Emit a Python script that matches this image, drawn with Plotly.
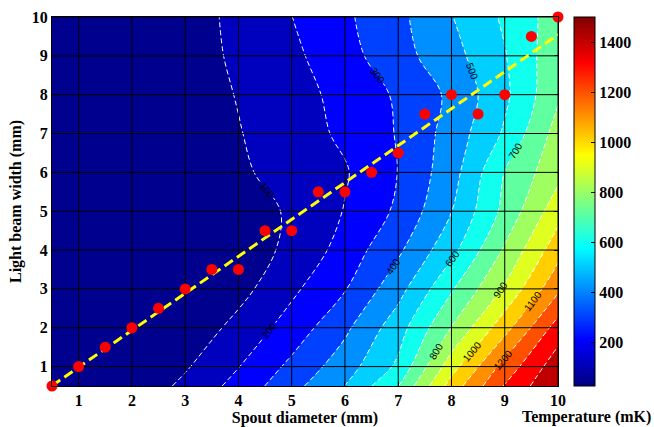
import numpy as np
import plotly.graph_objects as go

# ---------------- data ----------------
x_grid = [0.5, 1, 2, 3, 4, 5, 6, 7, 8, 9, 10]          # spout diameter (mm)
y_grid = [0.5, 1, 2, 3, 4, 5, 6, 7, 8, 9, 10]          # light beam width (mm)
temperature = [                                          # mK, rows follow y_grid
    [25, 26, 28, 123, 234, 368, 502, 698, 1043, 1308, 1500],
    [26, 28, 40, 89, 197, 324, 454, 620, 957, 1238, 1460],
    [25, 26, 28, 30, 131, 242, 379, 556, 803, 1063, 1345],
    [26, 27, 29, 32, 66, 180, 294, 464, 688, 914, 1180],
    [26, 28, 30, 34, 60, 117, 241, 382, 570, 814, 1060],
    [27, 28, 30, 35, 70, 108, 205, 318, 498, 729, 960],
    [27, 28, 31, 40, 85, 136, 191, 302, 459, 703, 870],
    [27, 28, 32, 45, 95, 154, 218, 307, 440, 614, 840],
    [27, 29, 33, 49, 105, 163, 230, 314, 420, 580, 785],
    [28, 30, 36, 56, 117, 178, 264, 363, 464, 594, 770],
    [28, 30, 35, 54, 126, 199, 283, 375, 496, 616, 750],
]
spout = [0.5, 1, 1.5, 2, 2.5, 3, 3.5, 4, 4.5, 5, 5.5, 6, 6.5, 7, 7.5, 8, 8.5, 9, 9.5, 10]
beam = [0.5, 1, 1.5, 2, 2.5, 3, 3.5, 3.5, 4.5, 4.5, 5.5, 5.5, 6, 6.5, 7.5, 8, 7.5, 8, 9.5, 10]
x_ticks = [1, 2, 3, 4, 5, 6, 7, 8, 9, 10]
y_ticks = [1, 2, 3, 4, 5, 6, 7, 8, 9, 10]
cbar_ticks = [200, 400, 600, 800, 1000, 1200, 1400]
level_start, level_end, level_step = 100, 1400, 100

# ---------------- styling helpers ----------------
def jet(t):
    t = min(max(t, 0.0), 1.0)
    r = min(max(1.5 - abs(4 * t - 3), 0), 1)
    g = min(max(1.5 - abs(4 * t - 2), 0), 1)
    b = min(max(1.5 - abs(4 * t - 1), 0), 1)
    return f"rgb({round(255*r)},{round(255*g)},{round(255*b)})"

def jet64(v, lo, hi):
    # MATLAB-like indexed lookup in a 64-entry jet map
    idx = min(int(np.floor((v - lo) / (hi - lo) * 64)) + 1, 64)
    return jet(idx / 64)

z = np.array(temperature, dtype=float)
zmin, zmax = float(z.min()), float(z.max())
levels = list(range(level_start, level_end + level_step, level_step))
nlev = len(levels)
band_scale = [[0.0, jet64(zmin, zmin, zmax)]]
for k, L in enumerate(levels, start=1):
    band_scale.append([k / nlev, jet64(L, zmin, zmax)])

jet_scale = [[0, "rgb(0,0,128)"], [0.125, "rgb(0,0,255)"], [0.375, "rgb(0,255,255)"],
             [0.625, "rgb(255,255,0)"], [0.875, "rgb(255,0,0)"], [1, "rgb(128,0,0)"]]

serif = "Liberation Serif"

fig = go.Figure()

fig.add_trace(go.Contour(
    x=x_grid, y=y_grid, z=temperature,
    autocontour=False,
    contours=dict(start=level_start, end=level_end, size=level_step,
                  coloring="fill", showlabels=True,
                  labelfont=dict(family="Liberation Sans", size=10, color="black")),
    colorscale=band_scale, showscale=False,
    line=dict(color="white", width=1, dash="5px,3px"),
    hoverinfo="skip",
))

# grid lines drawn above the filled contours
gx, gy = [], []
for t in x_ticks:
    gx += [t, t, None]
    gy += [y_grid[0], y_grid[-1], None]
for t in y_ticks:
    gx += [x_grid[0], x_grid[-1], None]
    gy += [t, t, None]
fig.add_trace(go.Scatter(x=gx, y=gy, mode="lines", line=dict(color="black", width=1),
                         hoverinfo="skip", showlegend=False))

# linear fit of the measured points
coef = np.polyfit(spout, beam, 1)
fx = [min(spout), max(spout)]
fy = [coef[0] * v + coef[1] for v in fx]
fig.add_trace(go.Scatter(x=fx, y=fy, mode="lines",
                         line=dict(color="rgb(255,255,0)", width=3, dash="10px,5px"),
                         hoverinfo="skip", showlegend=False, cliponaxis=False))

fig.add_trace(go.Scatter(x=spout, y=beam, mode="markers",
                         marker=dict(color="rgb(255,0,0)", size=11),
                         showlegend=False, cliponaxis=False))

# continuous colour bar
fig.add_trace(go.Scatter(
    x=[None, None], y=[None, None], mode="markers", showlegend=False, hoverinfo="skip",
    marker=dict(color=[zmin, zmax], colorscale=jet_scale, cmin=zmin, cmax=zmax, showscale=True,
                colorbar=dict(x=1.0316, xanchor="left", xpad=0, y=0, yanchor="bottom",
                              len=1, lenmode="fraction", ypad=0, thickness=21,
                              outlinecolor="black", outlinewidth=1,
                              tickvals=cbar_ticks, ticks="inside", ticklen=4, tickcolor="black",
                              tickfont=dict(family=serif, size=16, color="black", weight="bold")))))

fig.add_annotation(text="<b>Temperature (mK)</b>", xref="paper", yref="paper",
                   x=1.057, y=-0.084, xanchor="center", yanchor="middle", showarrow=False,
                   borderpad=0,
                   font=dict(family=serif, size=16, color="black"))

axis_common = dict(ticks="inside", ticklen=4, tickcolor="black", showgrid=False, zeroline=False,
                   showline=True, linecolor="black", linewidth=1, mirror="ticks",
                   automargin=False,
                   tickfont=dict(family=serif, size=16, color="black", weight="bold"))

fig.update_layout(
    width=654, height=427,
    margin=dict(l=52, r=96, t=17, b=41, autoexpand=False),
    paper_bgcolor="white", plot_bgcolor="white",
    font=dict(family=serif, size=16, color="black"),
    xaxis=dict(range=[x_grid[0], x_grid[-1]], tickvals=x_ticks, ticklabelstandoff=0,
               title=dict(text="<b>Spout diameter (mm)</b>", standoff=0,
                          font=dict(family=serif, size=16)), **axis_common),
    yaxis=dict(range=[y_grid[0], y_grid[-1]], tickvals=y_ticks,
               title=dict(text="<b>Light beam width (mm)</b>", standoff=6,
                          font=dict(family=serif, size=16)), **axis_common),
    showlegend=False,
)

fig.write_html("out.html")
